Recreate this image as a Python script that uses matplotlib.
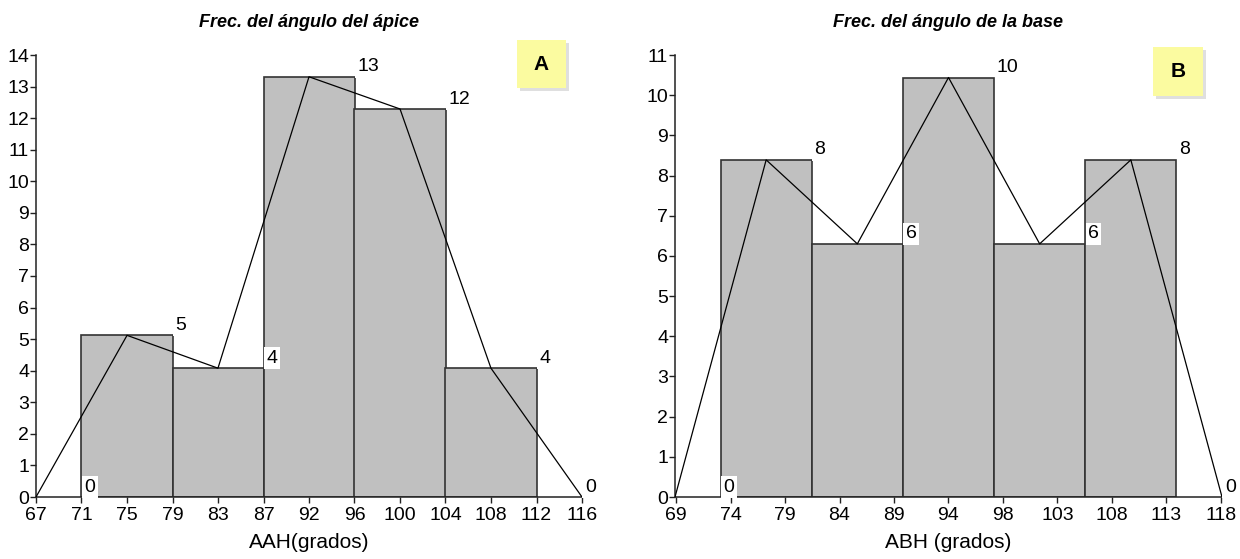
import matplotlib
matplotlib.use("Agg")
import matplotlib.pyplot as plt
from matplotlib.patches import Rectangle

plt.rcParams['font.family'] = ['Liberation Sans', 'DejaVu Sans']
NARROW = ['Liberation Sans Narrow', 'Liberation Sans', 'DejaVu Sans']

# ---- panel A: apex angle ----
apex_title = "Frec. del ángulo del ápice"
apex_xlabel = "AAH(grados)"
apex_bin_left = [71.08, 79.25, 87.42, 95.58, 103.75]
apex_bin_width = 8.17
apex_heights = [5.12, 4.08, 13.31, 12.29, 4.08]
apex_poly_x = [67, 75.17, 83.33, 91.5, 99.67, 107.83, 116]
apex_poly_y = [0, 5.12, 4.08, 13.31, 12.29, 4.08, 0]
apex_poly_lab = [0, 5, 4, 13, 12, 4, 0]
apex_ticks = [67, 71.08, 75.17, 79.25, 83.33, 87.42, 91.5, 95.58, 99.67,
              103.75, 107.83, 111.92, 116]
apex_tick_labels = ['67', '71', '75', '79', '83', '87', '92', '96', '100',
                    '104', '108', '112', '116']
apex_yticks = list(range(0, 15))

# ---- panel B: base angle ----
base_title = "Frec. del ángulo de la base"
base_xlabel = "ABH (grados)"
base_bin_left = [73.0, 81.2, 89.4, 97.6, 105.8]
base_bin_width = 8.2
base_heights = [8.39, 6.30, 10.44, 6.30, 8.39]
base_poly_x = [68.9, 77.1, 85.3, 93.5, 101.7, 109.9, 118.1]
base_poly_y = [0, 8.39, 6.30, 10.44, 6.30, 8.39, 0]
base_poly_lab = [0, 8, 6, 10, 6, 8, 0]
base_ticks = [69, 73.9, 78.8, 83.7, 88.6, 93.5, 98.4, 103.3, 108.2, 113.1, 118]
base_tick_labels = ['69', '74', '79', '84', '89', '94', '98', '103', '108',
                    '113', '118']
base_yticks = list(range(0, 12))

fig = plt.figure(figsize=(12.4, 5.59), dpi=100)
axA = fig.add_axes([36 / 1240, 62 / 559, 546 / 1240, 442 / 559])
axB = fig.add_axes([675 / 1240, 62 / 559, 547 / 1240, 442 / 559])


def draw(ax, title, xlabel, left, width, heights, px, py, plab, ticks,
         tlabels, yticks, xlim, ymax, letter, box_x):
    ax.bar(left, heights, width=width, align='edge', color='#c0c0c0',
           edgecolor='#333333', linewidth=1.2, zorder=2)
    ax.plot(px, py, color='black', lw=0.9, zorder=3)
    half = width / 2
    last = len(px) - 1
    for i, (x, y, lab) in enumerate(zip(px, py, plab)):
        xt = x if i == last else x + half
        ax.annotate(str(lab), (xt, y), xytext=(2, 1), textcoords='offset points',
                    ha='left', va='bottom', fontsize=14, zorder=4,
                    bbox=dict(boxstyle='square,pad=0.12', fc='white', ec='none'))
    ax.set_xlim(*xlim)
    ax.set_ylim(0, ymax)
    ax.set_xticks(ticks)
    ax.set_xticklabels(tlabels, family=NARROW, fontsize=14)
    ax.set_yticks(yticks)
    ax.set_yticklabels([str(v) for v in yticks], family=NARROW, fontsize=14)
    ax.tick_params(direction='out', length=4, width=1, pad=1, colors='#222222',
                   labelcolor='black')
    ax.tick_params(axis='x', pad=3)
    for s in ('top', 'right'):
        ax.spines[s].set_visible(False)
    for s in ('left', 'bottom'):
        ax.spines[s].set_color('#222222')
        ax.spines[s].set_linewidth(1.1)
    ax.set_xlabel(xlabel, fontsize=15, labelpad=7)
    ax.set_title(title, fontsize=13, fontweight='bold', style='italic',
                 pad=20)
    # letter badge with soft shadow
    bx, by, bw, bh = box_x
    fig.patches.append(Rectangle((bx + 3 / 1240, by - 3 / 559), bw, bh,
                                 transform=fig.transFigure, fc='#b8b8b8',
                                 ec='none', alpha=0.45, zorder=5))
    fig.patches.append(Rectangle((bx, by), bw, bh, transform=fig.transFigure,
                                 fc='#fbfba0', ec='none', zorder=6))
    fig.text(bx + bw / 2, by + bh / 2, letter, ha='center', va='center',
             fontsize=15, fontweight='bold', zorder=7)


draw(axA, apex_title, apex_xlabel, apex_bin_left, apex_bin_width, apex_heights,
     apex_poly_x, apex_poly_y, apex_poly_lab, apex_ticks, apex_tick_labels,
     apex_yticks, (67, 116), 14, 'A',
     (517 / 1240, 1 - 88 / 559, 49 / 1240, 48 / 559))
draw(axB, base_title, base_xlabel, base_bin_left, base_bin_width, base_heights,
     base_poly_x, base_poly_y, base_poly_lab, base_ticks, base_tick_labels,
     base_yticks, (68.9, 118.1), 11, 'B',
     (1153 / 1240, 1 - 96 / 559, 50 / 1240, 49 / 559))

fig.savefig('out.png', dpi=100)
